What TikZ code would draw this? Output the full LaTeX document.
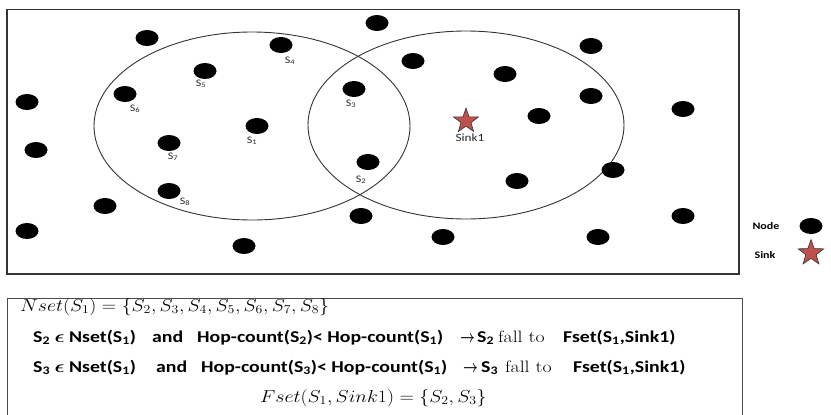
\documentclass[tikz,border=0pt]{standalone}
\usepackage{amsmath}
\usepackage{graphicx}
\usepackage{fontspec}
\newfontfamily\carl{Carlito}
\usetikzlibrary{shapes.geometric}
\definecolor{sinkred}{HTML}{C0504D}
\newcommand\wx[1]{\scalebox{1.2}[1]{#1}}
\newcommand\wm[1]{\scalebox{1.15}[1]{#1}}
\newcommand\harr{\scalebox{0.75}[1]{$\boldsymbol{\rightarrow}$}}
\begin{document}
\begin{tikzpicture}[x=1pt,y=-1pt,
  dot/.style={ellipse,fill=black,minimum width=23pt,minimum height=16pt,inner sep=0pt},
  lab/.style={font=\carl\fontsize{10}{11}\selectfont,text=black!85,inner sep=0pt},
  sinkstar/.style={star,star points=5,star point ratio=2.5,fill=sinkred,draw=black!80,line width=0.6pt,minimum size=26pt,inner sep=0pt},
  rangec/.style={draw=black!80,line width=0.9pt},
  txt/.style={font=\carl\bfseries\fontsize{16.5}{18}\selectfont,anchor=base west,inner sep=0pt},
  mtxt/.style={font=\fontsize{16.5}{18}\selectfont,anchor=base west,inner sep=0pt},
  legtxt/.style={font=\carl\bfseries\fontsize{10}{11}\selectfont,inner sep=0pt}]
\useasboundingbox (0,0) rectangle (831,415);
% field
\draw[draw=black!80,line width=1.4pt] (7,9.5) rectangle (739,274);
\draw[rangec] (252,126) ellipse [x radius=158, y radius=94];
\draw[rangec] (466,125) ellipse [x radius=158, y radius=94];
% labelled nodes
\node[dot] (s1) at (257,126) {};
\node[dot] (s2) at (368,162) {};
\node[dot] (s3) at (354,89) {};
\node[dot] (s4) at (281,45) {};
\node[dot] (s5) at (205,71) {};
\node[dot] (s6) at (125,94) {};
\node[dot] (s7) at (169,143) {};
\node[dot] (s8) at (169,191) {};
\node[lab] (l1) at (252,141) {\wx{S\textsubscript{1}}};
\node[lab] (l2) at (361,180) {\wx{S\textsubscript{2}}};
\node[lab] (l3) at (351,104) {\wx{S\textsubscript{3}}};
\node[lab] (l4) at (290,61) {\wx{S\textsubscript{4}}};
\node[lab] (l5) at (201,84) {\wx{S\textsubscript{5}}};
\node[lab] (l6) at (135,109) {\wx{S\textsubscript{6}}};
\node[lab] (l7) at (173,157) {\wx{S\textsubscript{7}}};
\node[lab] (l8) at (185,202) {\wx{S\textsubscript{8}}};
% other nodes
\node[dot] (n1) at (147,38) {};
\node[dot] (n2) at (27,102) {};
\node[dot] (n3) at (36,150) {};
\node[dot] (n4) at (105,206) {};
\node[dot] (n5) at (27,231) {};
\node[dot] (n6) at (244,246) {};
\node[dot] (n7) at (361,216) {};
\node[dot] (n8) at (377,23) {};
\node[dot] (n9) at (413,61) {};
\node[dot] (n10) at (591,46) {};
\node[dot] (n11) at (505,74) {};
\node[dot] (n12) at (591,96) {};
\node[dot] (n13) at (539,116) {};
\node[dot] (n14) at (683,109) {};
\node[dot] (n15) at (613,170) {};
\node[dot] (n16) at (517,181) {};
\node[dot] (n17) at (683,216) {};
\node[dot] (n18) at (443,237) {};
\node[dot] (n19) at (598,237) {};
% sink
\node[sinkstar] (sink1) at (466,121) {};
\node[lab,font=\carl\fontsize{11}{12}\selectfont] (sinklab) at (470,138) {\wx{Sink1}};
% legend
\node[legtxt] (legnode) at (766,226) {\wx{Node}};
\node[dot] (legdot) at (811,226) {};
\node[legtxt] (legsink) at (765,255) {\wx{Sink}};
\node[sinkstar,minimum size=27pt] (legstar) at (811,253) {};
% lower box
\draw[draw=black!70,line width=0.9pt] (7,416) -- (7,298) -- (742,298) -- (742,416);
\node[mtxt] (eq1) at (20,311) {\wm{$Nset(S_1) = \{S_2,S_3,S_4,S_5,S_6,S_7,S_8\}$}};
% line 2
\node[txt] (a2) at (33,342) {\wx{S\textsubscript{2} $\boldsymbol{\epsilon}$ Nset(S\textsubscript{1})}};
\node[txt] (and2) at (152,342) {\wx{and}};
\node[txt] (hop2) at (197,342) {\wx{Hop-count(S\textsubscript{2})< Hop-count(S\textsubscript{1})}};
\node[txt] (ar2) at (460,342) {\harr};
\node[txt] (sb2) at (477,342) {\wx{S\textsubscript{2}}};
\node[mtxt] (fall2) at (498,342) {\wx{fall to}};
\node[txt] (f2) at (563,342) {\wx{Fset(S\textsubscript{1},Sink1)}};
% line 3
\node[txt] (a3) at (33,372) {\wx{S\textsubscript{3} $\boldsymbol{\epsilon}$ Nset(S\textsubscript{1})}};
\node[txt] (and3) at (156,372) {\wx{and}};
\node[txt] (hop3) at (201,372) {\wx{Hop-count(S\textsubscript{3})< Hop-count(S\textsubscript{1})}};
\node[txt] (ar3) at (463,372) {\harr};
\node[txt] (sb3) at (481,372) {\wx{S\textsubscript{3}}};
\node[mtxt] (fall3) at (505,372) {\wx{fall to}};
\node[txt] (f3) at (573,372) {\wx{Fset(S\textsubscript{1},Sink1)}};
% line 4
\node[mtxt] (eq4) at (260,402) {\wm{$Fset(S_1,Sink1) = \{S_2,S_3\}$}};
\end{tikzpicture}
\end{document}
